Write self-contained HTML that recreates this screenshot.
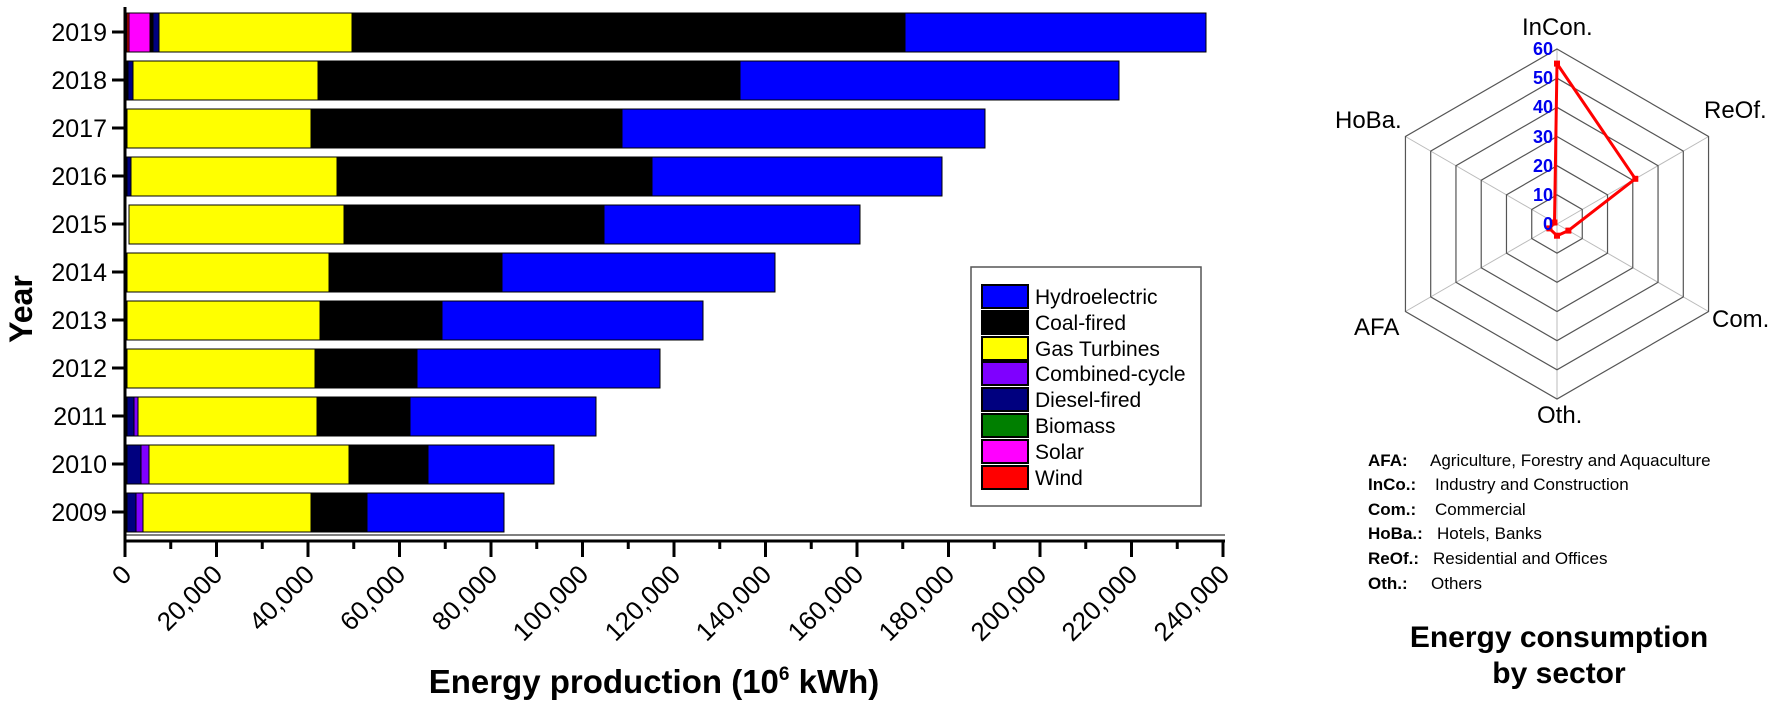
<!DOCTYPE html>
<html><head><meta charset="utf-8"><style>
html,body{margin:0;padding:0;background:#fff;}
svg{display:block;font-family:"Liberation Sans",Arial,sans-serif;}
</style></head><body>
<svg width="1771" height="704" viewBox="0 0 1771 704" xmlns="http://www.w3.org/2000/svg">
<g stroke="#000" stroke-width="1">
<rect x="127" y="13" width="2" height="39" fill="#f00"/>
<rect x="129" y="13" width="21" height="39" fill="#f0f"/>
<rect x="150" y="13" width="3" height="39" fill="#000"/>
<rect x="153" y="13" width="6" height="39" fill="#00007f"/>
<rect x="159" y="13" width="193" height="39" fill="#ff0"/>
<rect x="352" y="13" width="553" height="39" fill="#000"/>
<rect x="905" y="13" width="301" height="39" fill="#00f"/>
<rect x="127" y="61" width="1" height="39" fill="#007f00"/>
<rect x="128" y="61" width="5" height="39" fill="#00007f"/>
<rect x="133" y="61" width="185" height="39" fill="#ff0"/>
<rect x="318" y="61" width="422" height="39" fill="#000"/>
<rect x="740" y="61" width="379" height="39" fill="#00f"/>
<rect x="127" y="109" width="184" height="39" fill="#ff0"/>
<rect x="311" y="109" width="311" height="39" fill="#000"/>
<rect x="622" y="109" width="363" height="39" fill="#00f"/>
<rect x="127" y="157" width="4" height="39" fill="#00007f"/>
<rect x="131" y="157" width="206" height="39" fill="#ff0"/>
<rect x="337" y="157" width="315" height="39" fill="#000"/>
<rect x="652" y="157" width="290" height="39" fill="#00f"/>
<rect x="129" y="205" width="215" height="39" fill="#ff0"/>
<rect x="344" y="205" width="260" height="39" fill="#000"/>
<rect x="604" y="205" width="256" height="39" fill="#00f"/>
<rect x="127" y="253" width="202" height="39" fill="#ff0"/>
<rect x="329" y="253" width="173" height="39" fill="#000"/>
<rect x="502" y="253" width="273" height="39" fill="#00f"/>
<rect x="127" y="301" width="193" height="39" fill="#ff0"/>
<rect x="320" y="301" width="122" height="39" fill="#000"/>
<rect x="442" y="301" width="261" height="39" fill="#00f"/>
<rect x="127" y="349" width="188" height="39" fill="#ff0"/>
<rect x="315" y="349" width="102" height="39" fill="#000"/>
<rect x="417" y="349" width="243" height="39" fill="#00f"/>
<rect x="127" y="397" width="7" height="39" fill="#00007f"/>
<rect x="134" y="397" width="4" height="39" fill="#7f00ff"/>
<rect x="138" y="397" width="179" height="39" fill="#ff0"/>
<rect x="317" y="397" width="93" height="39" fill="#000"/>
<rect x="410" y="397" width="186" height="39" fill="#00f"/>
<rect x="127" y="445" width="14" height="39" fill="#00007f"/>
<rect x="141" y="445" width="8" height="39" fill="#7f00ff"/>
<rect x="149" y="445" width="200" height="39" fill="#ff0"/>
<rect x="349" y="445" width="79" height="39" fill="#000"/>
<rect x="428" y="445" width="126" height="39" fill="#00f"/>
<rect x="127" y="493" width="9" height="39" fill="#00007f"/>
<rect x="136" y="493" width="7" height="39" fill="#7f00ff"/>
<rect x="143" y="493" width="168" height="39" fill="#ff0"/>
<rect x="311" y="493" width="56" height="39" fill="#000"/>
<rect x="367" y="493" width="137" height="39" fill="#00f"/>
</g>
<line x1="125" y1="535" x2="1225" y2="535" stroke="#000" stroke-width="1"/>
<g stroke="#000" stroke-width="3">
<line x1="125" y1="7" x2="125" y2="542"/>
<line x1="124" y1="541" x2="1225" y2="541"/>
<line x1="112" y1="32" x2="125" y2="32"/><line x1="112" y1="80" x2="125" y2="80"/>
<line x1="112" y1="128" x2="125" y2="128"/><line x1="112" y1="176" x2="125" y2="176"/>
<line x1="112" y1="224" x2="125" y2="224"/><line x1="112" y1="272" x2="125" y2="272"/>
<line x1="112" y1="320" x2="125" y2="320"/><line x1="112" y1="368" x2="125" y2="368"/>
<line x1="112" y1="416" x2="125" y2="416"/><line x1="112" y1="464" x2="125" y2="464"/>
<line x1="112" y1="512" x2="125" y2="512"/>
<line x1="125" y1="541" x2="125" y2="557"/><line x1="170.75" y1="541" x2="170.75" y2="549"/>
<line x1="216.5" y1="541" x2="216.5" y2="557"/><line x1="262.25" y1="541" x2="262.25" y2="549"/>
<line x1="308" y1="541" x2="308" y2="557"/><line x1="353.75" y1="541" x2="353.75" y2="549"/>
<line x1="399.5" y1="541" x2="399.5" y2="557"/><line x1="445.25" y1="541" x2="445.25" y2="549"/>
<line x1="491" y1="541" x2="491" y2="557"/><line x1="536.75" y1="541" x2="536.75" y2="549"/>
<line x1="582.5" y1="541" x2="582.5" y2="557"/><line x1="628.25" y1="541" x2="628.25" y2="549"/>
<line x1="674" y1="541" x2="674" y2="557"/><line x1="719.75" y1="541" x2="719.75" y2="549"/>
<line x1="765.5" y1="541" x2="765.5" y2="557"/><line x1="811.25" y1="541" x2="811.25" y2="549"/>
<line x1="857" y1="541" x2="857" y2="557"/><line x1="902.75" y1="541" x2="902.75" y2="549"/>
<line x1="948.5" y1="541" x2="948.5" y2="557"/><line x1="994.25" y1="541" x2="994.25" y2="549"/>
<line x1="1040" y1="541" x2="1040" y2="557"/><line x1="1085.75" y1="541" x2="1085.75" y2="549"/>
<line x1="1131.5" y1="541" x2="1131.5" y2="557"/><line x1="1177.25" y1="541" x2="1177.25" y2="549"/>
<line x1="1223" y1="541" x2="1223" y2="557"/>
</g>
<g font-size="25" text-anchor="end" fill="#000">
<text x="107" y="41">2019</text><text x="107" y="89">2018</text><text x="107" y="137">2017</text>
<text x="107" y="185">2016</text><text x="107" y="233">2015</text><text x="107" y="281">2014</text>
<text x="107" y="329">2013</text><text x="107" y="377">2012</text><text x="107" y="425">2011</text>
<text x="107" y="473">2010</text><text x="107" y="521">2009</text>
</g>
<text transform="translate(32,309) rotate(-90)" font-size="32" font-weight="bold" text-anchor="middle">Year</text>
<g font-size="26" text-anchor="end">
<text transform="translate(133,576) rotate(-45)">0</text>
<text transform="translate(224,576) rotate(-45)">20,000</text>
<text transform="translate(316,576) rotate(-45)">40,000</text>
<text transform="translate(407,576) rotate(-45)">60,000</text>
<text transform="translate(499,576) rotate(-45)">80,000</text>
<text transform="translate(590,576) rotate(-45)">100,000</text>
<text transform="translate(682,576) rotate(-45)">120,000</text>
<text transform="translate(773,576) rotate(-45)">140,000</text>
<text transform="translate(865,576) rotate(-45)">160,000</text>
<text transform="translate(956,576) rotate(-45)">180,000</text>
<text transform="translate(1048,576) rotate(-45)">200,000</text>
<text transform="translate(1139,576) rotate(-45)">220,000</text>
<text transform="translate(1231,576) rotate(-45)">240,000</text>
</g>
<text x="654" y="693" font-size="33" font-weight="bold" text-anchor="middle">Energy production (10<tspan font-size="19" dy="-13">6</tspan><tspan dy="13"> kWh)</tspan></text>
<rect x="971" y="267" width="230" height="239" fill="#fff" stroke="#555" stroke-width="1.5"/>
<g stroke="#000" stroke-width="2">
<rect x="982" y="285" width="46" height="23" fill="#00f"/>
<rect x="982" y="311" width="46" height="23" fill="#000"/>
<rect x="982" y="337" width="46" height="23" fill="#ff0"/>
<rect x="982" y="362" width="46" height="23" fill="#7f00ff"/>
<rect x="982" y="388" width="46" height="23" fill="#00007f"/>
<rect x="982" y="414" width="46" height="23" fill="#007f00"/>
<rect x="982" y="440" width="46" height="23" fill="#f0f"/>
<rect x="982" y="466" width="46" height="23" fill="#f00"/>
</g>
<g font-size="21">
<text x="1035" y="304">Hydroelectric</text><text x="1035" y="330">Coal-fired</text>
<text x="1035" y="356">Gas Turbines</text><text x="1035" y="381">Combined-cycle</text>
<text x="1035" y="407">Diesel-fired</text><text x="1035" y="433">Biomass</text>
<text x="1035" y="459">Solar</text><text x="1035" y="485">Wind</text>
</g>
<g transform="translate(1557,224)">
<g stroke="#bbb" stroke-width="1">
<line x1="0" y1="0" x2="0" y2="-175"/><line x1="0" y1="0" x2="151.6" y2="-87.5"/>
<line x1="0" y1="0" x2="151.6" y2="87.5"/><line x1="0" y1="0" x2="0" y2="175"/>
<line x1="0" y1="0" x2="-151.6" y2="87.5"/><line x1="0" y1="0" x2="-151.6" y2="-87.5"/>
</g>
<g fill="none" stroke="#555" stroke-width="1.2">
<polygon points="0,-29.17 25.26,-14.58 25.26,14.58 0,29.17 -25.26,14.58 -25.26,-14.58"/>
<polygon points="0,-58.33 50.52,-29.17 50.52,29.17 0,58.33 -50.52,29.17 -50.52,-29.17"/>
<polygon points="0,-87.5 75.78,-43.75 75.78,43.75 0,87.5 -75.78,43.75 -75.78,-43.75"/>
<polygon points="0,-116.67 101.04,-58.33 101.04,58.33 0,116.67 -101.04,58.33 -101.04,-58.33"/>
<polygon points="0,-145.83 126.3,-72.92 126.3,72.92 0,145.83 -126.3,72.92 -126.3,-72.92"/>
<polygon points="0,-175 151.55,-87.5 151.55,87.5 0,175 -151.55,87.5 -151.55,-87.5"/>
</g>
<polygon points="0,-160.4 78.3,-45.2 11.4,6.6 0,11.7 -7.6,4.4 -2.5,-1.5" fill="none" stroke="#f00" stroke-width="3" stroke-linejoin="round"/>
<g fill="#f00">
<rect x="-3" y="-163.4" width="6" height="6"/><rect x="75.3" y="-48.2" width="6" height="6"/>
<rect x="8.4" y="3.6" width="6" height="6"/><rect x="-3" y="8.7" width="6" height="6"/>
<rect x="-10.6" y="1.4" width="6" height="6"/><rect x="-5.5" y="-4.5" width="6" height="6"/>
</g>
<g fill="#0000ee" font-size="18" font-weight="bold" text-anchor="end">
<text x="-4" y="6">0</text><text x="-4" y="-23">10</text><text x="-4" y="-52">20</text>
<text x="-4" y="-81">30</text><text x="-4" y="-111">40</text><text x="-4" y="-140">50</text>
<text x="-4" y="-169">60</text>
</g>
</g>
<g font-size="24">
<text x="1522" y="35">InCon.</text>
<text x="1704" y="118">ReOf.</text>
<text x="1712" y="327">Com.</text>
<text x="1537" y="423">Oth.</text>
<text x="1354" y="335">AFA</text>
<text x="1335" y="128">HoBa.</text>
</g>
<g font-size="17">
<text x="1368" y="466"><tspan font-weight="bold">AFA:</tspan><tspan x="1430">Agriculture, Forestry and Aquaculture</tspan></text>
<text x="1368" y="490"><tspan font-weight="bold">InCo.:</tspan><tspan x="1435">Industry and Construction</tspan></text>
<text x="1368" y="515"><tspan font-weight="bold">Com.:</tspan><tspan x="1435">Commercial</tspan></text>
<text x="1368" y="539"><tspan font-weight="bold">HoBa.:</tspan><tspan x="1437">Hotels, Banks</tspan></text>
<text x="1368" y="564"><tspan font-weight="bold">ReOf.:</tspan><tspan x="1433">Residential and Offices</tspan></text>
<text x="1368" y="589"><tspan font-weight="bold">Oth.:</tspan><tspan x="1431">Others</tspan></text>
</g>
<g font-size="30" font-weight="bold" text-anchor="middle">
<text x="1559" y="647">Energy consumption</text>
<text x="1559" y="683">by sector</text>
</g>
</svg>
</body></html>
